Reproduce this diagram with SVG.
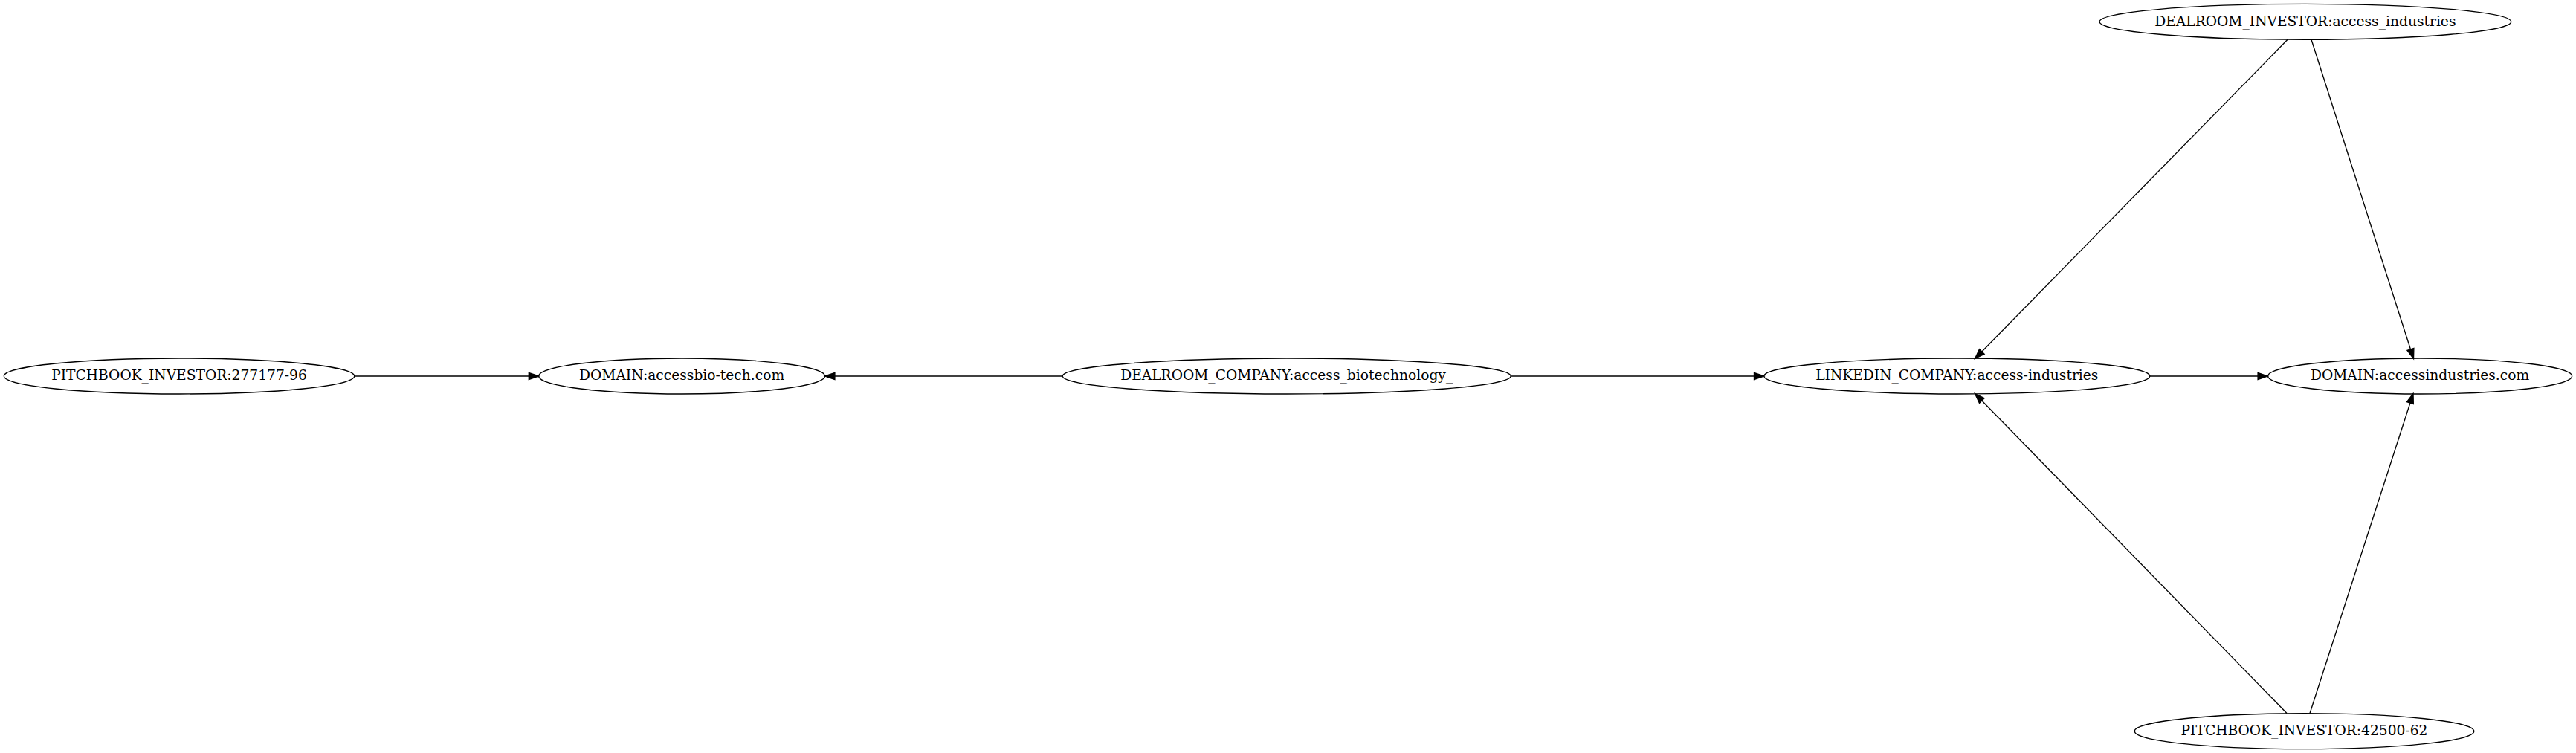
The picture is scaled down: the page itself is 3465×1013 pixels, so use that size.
<svg xmlns="http://www.w3.org/2000/svg" width="3465" height="1013" viewBox="0 0 3465 1013">
<style>
.n ellipse{fill:none;stroke:#000;stroke-width:1.33}
.n text{font-family:"DejaVu Serif","Liberation Serif",serif;font-size:18.67px;text-anchor:middle;fill:#000}
.e line{stroke:#000;stroke-width:1.33}
.e polygon{fill:#000;stroke:#000;stroke-width:1.33}
</style>
<rect width="3465" height="1013" fill="#fff"/>
<g id="n_pb277177" class="n"><ellipse cx="241" cy="506" rx="235.7" ry="24"/><text x="241" y="511.4">PITCHBOOK_INVESTOR:277177-96</text></g>
<g id="n_domain_bio" class="n"><ellipse cx="917.1" cy="506" rx="192.5" ry="24"/><text x="917.1" y="511.4">DOMAIN:accessbio-tech.com</text></g>
<g id="n_dealroom_company" class="n"><ellipse cx="1730.7" cy="506" rx="301.4" ry="24"/><text x="1730.7" y="511.4">DEALROOM_COMPANY:access_biotechnology_</text></g>
<g id="n_linkedin" class="n"><ellipse cx="2632.3" cy="506" rx="259.5" ry="24"/><text x="2632.3" y="511.4">LINKEDIN_COMPANY:access-industries</text></g>
<g id="n_domain_ind" class="n"><ellipse cx="3255.1" cy="506" rx="204.6" ry="24"/><text x="3255.1" y="511.4">DOMAIN:accessindustries.com</text></g>
<g id="n_dealroom_investor" class="n"><ellipse cx="3100.9" cy="29.3" rx="276.9" ry="24"/><text x="3100.9" y="34.7">DEALROOM_INVESTOR:access_industries</text></g>
<g id="n_pb42500" class="n"><ellipse cx="3099.5" cy="983.7" rx="228.3" ry="24"/><text x="3099.5" y="989.1">PITCHBOOK_INVESTOR:42500-62</text></g>
<g id="edges" class="e">
<line x1="476.7" y1="506" x2="711.3" y2="506"/><polygon points="724.6,506 711.3,501.33 711.3,510.67"/>
<line x1="1429.3" y1="506" x2="1122.9" y2="506"/><polygon points="1109.6,506 1122.9,501.33 1122.9,510.67"/>
<line x1="2032" y1="506" x2="2359.5" y2="506"/><polygon points="2372.8,506 2359.5,501.33 2359.5,510.67"/>
<line x1="2891.8" y1="506" x2="3037.1" y2="506"/><polygon points="3050.4,506 3037.1,501.33 3037.1,510.67"/>
<line x1="3077" y1="53.3" x2="2665.83" y2="472.98"/><polygon points="2656.5,482.5 2669.17,476.25 2662.49,469.71"/>
<line x1="3109" y1="53.3" x2="3242.43" y2="469.81"/><polygon points="3246.5,482.5 3246.88,468.38 3237.98,471.23"/>
<line x1="3076" y1="959.5" x2="2665.81" y2="539.04"/><polygon points="2656.5,529.5 2669.15,535.78 2662.47,542.3"/>
<line x1="3107" y1="959.5" x2="3241.9" y2="542.18"/><polygon points="3246,529.5 3246.34,543.62 3237.46,540.74"/>
</g>
</svg>
